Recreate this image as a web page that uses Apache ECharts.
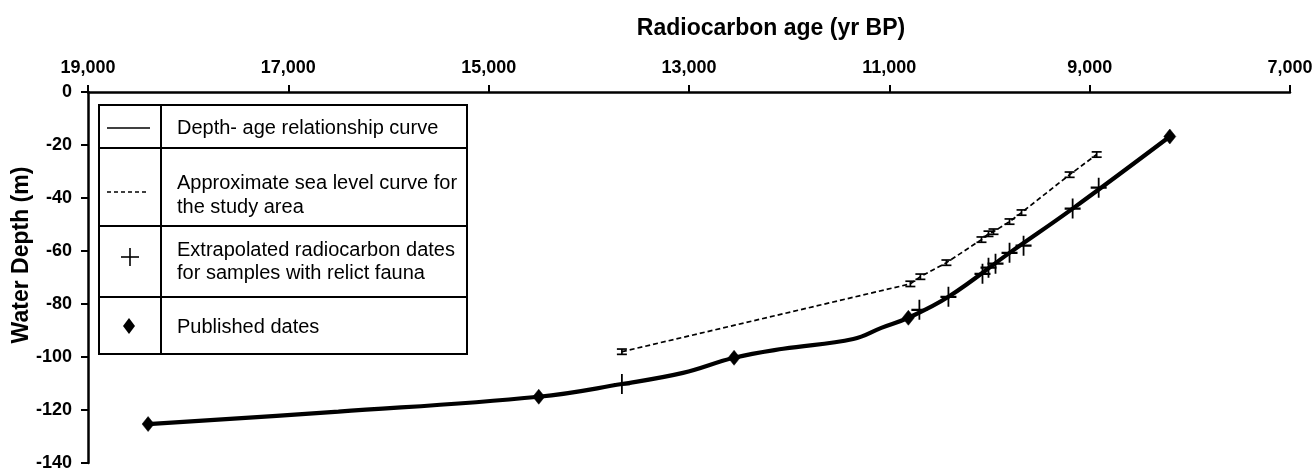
<!DOCTYPE html>
<html>
<head>
<meta charset="utf-8">
<script src="https://cdn.jsdelivr.net/npm/echarts@6/dist/echarts.min.js"></script>
<style>
  html, body { margin: 0; padding: 0; background: #fff; }
  #main { width: 1316px; height: 472px; }
</style>
</head>
<body>
<div id="main"></div>
<script>
// x ticks (yr BP), axis runs 19,000 -> 7,000
const xTickValues = [7000, 9000, 11000, 13000, 15000, 17000, 19000];

// depth-age relationship curve
const curveAge = [18400, 16500, 14500, 13670, 13060, 12550, 12060, 11360, 11080, 10810, 10410, 9800, 9170, 8200];
const curveDepth = [-125.3, -120.6, -115, -110.2, -106, -100.3, -96.9, -93.2, -89, -85.2, -77.3, -60.7, -44.0, -16.8];

// published dates (diamonds)
const publishedAge = [18400, 14500, 12550, 10810, 8200];
const publishedDepth = [-125.3, -115, -100.3, -85.2, -16.8];

// extrapolated radiocarbon dates (crosses)
const extrapAge = [13670, 10700, 10410, 10070, 10010, 9940, 9800, 9660, 9170, 8910];
const extrapDepth = [-110.2, -82.2, -77.3, -68.6, -66.3, -64.8, -60.7, -58.0, -44.0, -36.1];

// approximate sea level curve with error bars
const seaAge = [13670, 10790, 10690, 10430, 10080, 10010, 9960, 9800, 9680, 9200, 8930];
const seaDepth = [-98, -72.4, -69.7, -64.4, -55.7, -53.5, -52.7, -48.9, -45.5, -31.2, -23.6];
const seaErr = [1, 1, 1, 1, 1, 1, 1, 1, 1, 1, 1];

const FONT = "'Liberation Sans', Arial, Helvetica, sans-serif";

const zip = (a, b) => a.map((v, i) => [v, b[i]]);

const chart = echarts.init(document.getElementById('main'));

// legend table (drawn as a boxed table like the figure)
const L = { x0: 99, x1: 467, y0: 105, y1: 354, col: 161, rows: [148, 226, 297] };
const legendGraphics = [
  { type: 'rect', shape: { x: L.x0, y: L.y0, width: L.x1 - L.x0, height: L.y1 - L.y0 },
    style: { fill: '#fff', stroke: '#000', lineWidth: 2 }, z: 10 },
  { type: 'line', shape: { x1: L.col, y1: L.y0, x2: L.col, y2: L.y1 }, style: { stroke: '#000', lineWidth: 2 }, z: 11 },
  ...L.rows.map(y => ({ type: 'line', shape: { x1: L.x0, y1: y, x2: L.x1, y2: y }, style: { stroke: '#000', lineWidth: 2 }, z: 11 })),
  // symbols
  { type: 'line', shape: { x1: 107, y1: 128, x2: 150, y2: 128 }, style: { stroke: '#000', lineWidth: 1.6 }, z: 11 },
  { type: 'line', shape: { x1: 107, y1: 192, x2: 148, y2: 192 }, style: { stroke: '#000', lineWidth: 1.4, lineDash: [4, 3] }, z: 11 },
  { type: 'line', shape: { x1: 130, y1: 248, x2: 130, y2: 266 }, style: { stroke: '#000', lineWidth: 1.6 }, z: 11 },
  { type: 'line', shape: { x1: 121, y1: 257, x2: 139, y2: 257 }, style: { stroke: '#000', lineWidth: 1.6 }, z: 11 },
  { type: 'polygon', shape: { points: [[129, 318], [135, 326], [129, 334], [123, 326]] }, style: { fill: '#000' }, z: 11 },
  // texts
  ...[
    ['Depth- age relationship curve', 128],
    ['Approximate sea level curve for', 183],
    ['the study area', 207],
    ['Extrapolated radiocarbon dates', 250],
    ['for samples with relict fauna', 273],
    ['Published dates', 327]
  ].map(([t, y]) => ({
    type: 'text', x: 177, y: y, z: 11,
    style: { text: t, font: '20px ' + FONT, fill: '#000', textAlign: 'left', textVerticalAlign: 'middle' }
  }))
];

chart.setOption({
  animation: false,
  backgroundColor: '#fff',
  grid: { left: 88, top: 92, right: 26, bottom: 9, containLabel: false },
  xAxis: {
    type: 'value',
    position: 'top',
    inverse: true,
    min: 7000,
    max: 19000,
    axisLine: { show: true, onZero: false, lineStyle: { color: '#000', width: 2.5 } },
    axisTick: { show: true, customValues: xTickValues, length: 7, inside: false, lineStyle: { color: '#000', width: 2 } },
    axisLabel: {
      customValues: xTickValues, margin: 15, color: '#000',
      fontFamily: FONT, fontWeight: 'bold', fontSize: 18,
      formatter: v => v.toLocaleString('en-US')
    },
    splitLine: { show: false }
  },
  yAxis: {
    type: 'value',
    min: -140,
    max: 0,
    interval: 20,
    axisLine: { show: true, onZero: false, lineStyle: { color: '#000', width: 2.5 } },
    axisTick: { show: true, length: 7, inside: false, lineStyle: { color: '#000', width: 2 } },
    axisLabel: { margin: 16, color: '#000', fontFamily: FONT, fontWeight: 'bold', fontSize: 18 },
    splitLine: { show: false }
  },
  graphic: [
    { type: 'text', x: 771, y: 29,
      style: { text: 'Radiocarbon age (yr BP)', font: 'bold 23px ' + FONT, fill: '#000', textAlign: 'center', textVerticalAlign: 'middle' } },
    { type: 'text', x: 22, y: 255, rotation: Math.PI / 2,
      style: { text: 'Water Depth (m)', font: 'bold 23px ' + FONT, fill: '#000', textAlign: 'center', textVerticalAlign: 'middle' } },
    ...legendGraphics
  ],
  series: [
    {
      name: 'Depth- age relationship curve',
      type: 'line',
      data: zip(curveAge, curveDepth),
      smooth: 0.4,
      showSymbol: false,
      lineStyle: { color: '#000', width: 4.2 },
      z: 2
    },
    {
      name: 'Approximate sea level curve for the study area',
      type: 'line',
      data: zip(seaAge, seaDepth),
      showSymbol: false,
      lineStyle: { color: '#000', width: 1.7, type: [5, 3] },
      z: 2
    },
    {
      name: 'sea level error',
      type: 'custom',
      data: seaAge.map((a, i) => [a, seaDepth[i], seaErr[i]]),
      renderItem: (params, api) => {
        const x = api.value(0), y = api.value(1), e = api.value(2);
        const top = api.coord([x, y + e]);
        const bot = api.coord([x, y - e]);
        const hw = 5;
        const st = { stroke: '#000', lineWidth: 1.7 };
        return {
          type: 'group',
          children: [
            { type: 'line', shape: { x1: top[0], y1: top[1], x2: bot[0], y2: bot[1] }, style: st },
            { type: 'line', shape: { x1: top[0] - hw, y1: top[1], x2: top[0] + hw, y2: top[1] }, style: st },
            { type: 'line', shape: { x1: bot[0] - hw, y1: bot[1], x2: bot[0] + hw, y2: bot[1] }, style: st }
          ]
        };
      },
      z: 3
    },
    {
      name: 'Extrapolated radiocarbon dates',
      type: 'scatter',
      data: zip(extrapAge, extrapDepth),
      symbol: 'path://M0,-1L0,1M-1,0L1,0',
      symbolSize: [16, 20],
      itemStyle: { color: 'rgba(0,0,0,0)', borderColor: '#000', borderWidth: 2, opacity: 1 },
      z: 4
    },
    {
      name: 'Published dates',
      type: 'scatter',
      data: zip(publishedAge, publishedDepth),
      symbol: 'diamond',
      symbolSize: [12, 15],
      itemStyle: { color: '#000', borderColor: '#000', borderWidth: 0.5, opacity: 1 },
      z: 5
    }
  ]
});
</script>
</body>
</html>
